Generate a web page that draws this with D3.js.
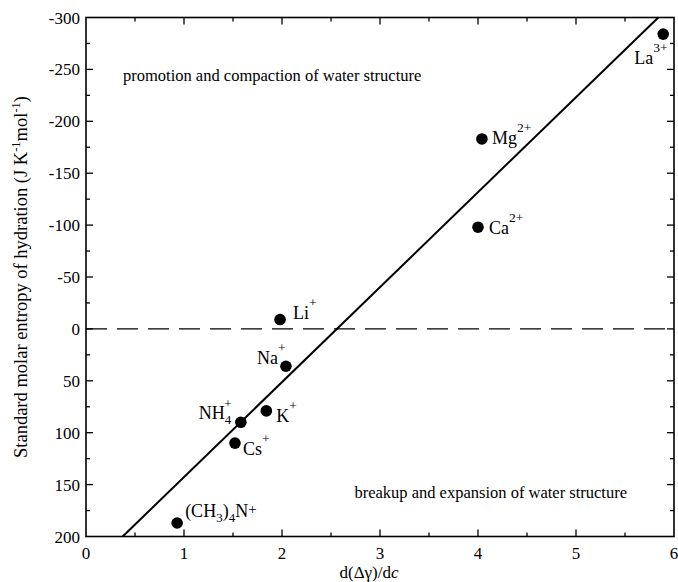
<!DOCTYPE html>
<html lang="en">
<head>
  <meta charset="utf-8" />
  <title>Entropy of hydration vs d(Δγ)/dc</title>
  <style>
    body { margin: 0; background: #fff; }
    svg { display: block; font-family: 'Liberation Serif', 'Times New Roman', serif; }
    .frame { fill: none; stroke: #000; stroke-width: 1.6px; }
    .tick line { stroke: #000; stroke-width: 1.3px; }
    .ticklabel { font-size: 17px; fill: #000; }
    .ion { font-size: 18px; fill: #000; }
    .note { font-size: 16.5px; fill: #000; }
  </style>
</head>
<body>
<div id="chart"></div>
<script src="https://d3js.org/d3.v7.min.js"></script>
<script>
// ---- data ----
const ions    = ["La", "Mg", "Ca", "Li", "Na", "K", "NH4", "Cs", "(CH3)4N"];
const xValues = [5.89, 4.04, 4.00, 1.98, 2.04, 1.84, 1.58, 1.52, 0.93];
const yValues = [-284, -183, -98, -9, 36, 79, 90, 110, 187];
const charges = ["3+", "2+", "2+", "+", "+", "+", "+", "+", "+"];
const fitLine = [[0.374, 200], [5.84, -300]];   // regression line end points
const xTicks  = [0, 1, 2, 3, 4, 5, 6];
const yTicks  = [-300, -250, -200, -150, -100, -50, 0, 50, 100, 150, 200];

const W = 678, H = 582;
const margin = { top: 17.5, right: 4, bottom: 45.5, left: 86 };

const svg = d3.select("#chart").append("svg")
    .attr("width", W)
    .attr("height", H);

const x = d3.scaleLinear().domain([0, 6]).range([margin.left, W - margin.right]);
const y = d3.scaleLinear().domain([-300, 200]).range([margin.top, H - margin.bottom]);

const x0 = x.range()[0], x1 = x.range()[1];
const y0 = y.range()[0], y1 = y.range()[1];

// inward ticks on all four sides
function addTicks(g, scale, values, len, side) {
  values.forEach(v => {
    const p = scale(v);
    if (side === "bottom") g.append("line").attr("x1", p).attr("x2", p).attr("y1", y1).attr("y2", y1 - len);
    if (side === "top")    g.append("line").attr("x1", p).attr("x2", p).attr("y1", y0).attr("y2", y0 + len);
    if (side === "left")   g.append("line").attr("y1", p).attr("y2", p).attr("x1", x0).attr("x2", x0 + len);
    if (side === "right")  g.append("line").attr("y1", p).attr("y2", p).attr("x1", x1).attr("x2", x1 - len);
  });
}
const tg = svg.append("g").attr("class", "tick");
const xMinor = d3.range(0.5, 6, 1);
const yMinor = d3.range(-275, 200, 50);
["bottom", "top"].forEach(s => {
  addTicks(tg, x, xTicks.slice(1, -1), 7, s);
  addTicks(tg, x, xMinor, 4, s);
});
["left", "right"].forEach(s => {
  addTicks(tg, y, yTicks.slice(1, -1), 7, s);
  addTicks(tg, y, yMinor, 4, s);
});

// tick labels
svg.append("g").selectAll("text").data(xTicks).join("text")
    .attr("class", "ticklabel")
    .attr("x", d => x(d))
    .attr("y", y1 + 22)
    .attr("text-anchor", "middle")
    .text(d => d);

svg.append("g").selectAll("text").data(yTicks).join("text")
    .attr("class", "ticklabel")
    .attr("x", x0 - 6)
    .attr("y", d => y(d) + 6)
    .attr("text-anchor", "end")
    .text(d => String(d));

// frame
svg.append("rect").attr("class", "frame")
    .attr("x", x0).attr("y", y0)
    .attr("width", x1 - x0).attr("height", y1 - y0);

// zero dashed line
svg.append("line")
    .attr("x1", x0).attr("x2", x1)
    .attr("y1", y(0)).attr("y2", y(0))
    .attr("stroke", "#000").attr("stroke-width", 1.3)
    .attr("stroke-dasharray", "21,10");

// regression line
svg.append("path")
    .datum(fitLine)
    .attr("fill", "none").attr("stroke", "#000").attr("stroke-width", 2)
    .attr("d", d3.line().x(d => x(d[0])).y(d => y(d[1])));

// points
const pts = ions.map((n, i) => ({ name: n, x: xValues[i], y: yValues[i], q: charges[i] }));
svg.append("g").selectAll("circle").data(pts).join("circle")
    .attr("cx", d => x(d.x)).attr("cy", d => y(d.y))
    .attr("r", 5.8).attr("fill", "#000");

// ion labels: offsets of the baseline relative to the point
const labelPos = {
  "La":      [-29, 30],
  "Mg":      [10, 5],
  "Ca":      [11, 7],
  "Li":      [13, -1],
  "Na":      [-29, -2],
  "K":       [10, 11],
  "NH4":     [-42, -3],
  "Cs":      [8, 12],
  "(CH3)4N": [8, -6]
};

const lab = svg.append("g").selectAll("text").data(pts).join("text")
    .attr("class", "ion")
    .attr("x", d => x(d.x) + labelPos[d.name][0])
    .attr("y", d => y(d.y) + labelPos[d.name][1]);

lab.each(function(d) {
  const t = d3.select(this);
  if (d.name === "NH4") {
    t.append("tspan").text("NH");
    t.append("tspan").attr("font-size", 13).attr("dy", 5).text("4");
    t.append("tspan").attr("font-size", 13).attr("dy", -16).attr("dx", -7).text(d.q);
  } else if (d.name === "(CH3)4N") {
    t.append("tspan").text("(CH");
    t.append("tspan").attr("font-size", 13).attr("dy", 5).text("3");
    t.append("tspan").attr("dy", -5).text(")");
    t.append("tspan").attr("font-size", 13).attr("dy", 5).text("4");
    t.append("tspan").attr("dy", -5).text("N");
    t.append("tspan").attr("font-size", 15).attr("dy", -3).text("+");
  } else {
    t.append("tspan").text(d.name);
    t.append("tspan").attr("font-size", 13.5).attr("dy", -12).text(d.q);
  }
});

// region notes
svg.append("text").attr("class", "note")
    .attr("x", 123).attr("y", 81)
    .text("promotion and compaction of water structure");
svg.append("text").attr("class", "note")
    .attr("x", 627).attr("y", 498)
    .attr("text-anchor", "end")
    .text("breakup and expansion of water structure");

// axis titles
svg.append("text")
    .attr("font-size", 17)
    .attr("text-anchor", "middle")
    .attr("x", 369).attr("y", 578)
    .call(t => {
      t.append("tspan").text("d(Δγ)/d");
      t.append("tspan").attr("font-style", "italic").text("c");
    });

svg.append("text")
    .attr("font-size", 18.5)
    .attr("text-anchor", "middle")
    .attr("transform", `translate(27,${(y0 + y1) / 2}) rotate(-90)`)
    .call(t => {
      t.append("tspan").text("Standard molar entropy of hydration (J K");
      t.append("tspan").attr("font-size", 12.5).attr("dy", -7).text("-1");
      t.append("tspan").attr("dy", 7).text("mol");
      t.append("tspan").attr("font-size", 12.5).attr("dy", -7).text("-1");
      t.append("tspan").attr("dy", 7).text(")");
    });
</script>
</body>
</html>
